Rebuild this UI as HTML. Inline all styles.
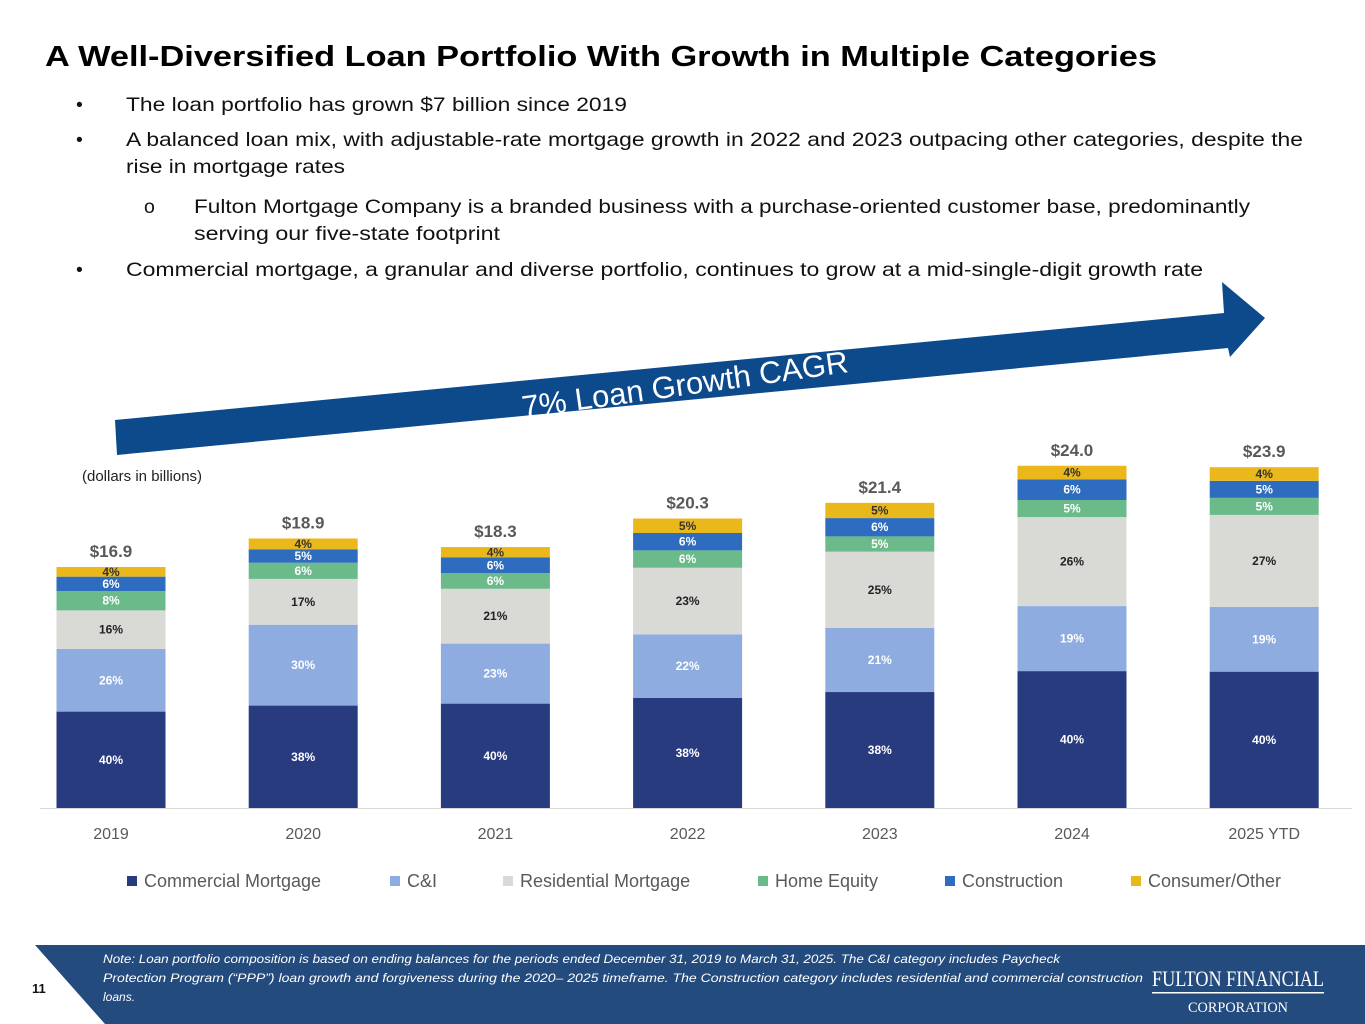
<!DOCTYPE html>
<html><head><meta charset="utf-8"><style>
body{margin:0;background:#fff;}
svg{display:block;font-family:"Liberation Sans",sans-serif;}
</style></head><body>
<svg width="1365" height="1024" viewBox="0 0 1365 1024">
<text x="45" y="66" font-size="29" font-weight="bold" fill="#000" textLength="1112" lengthAdjust="spacingAndGlyphs">A Well-Diversified Loan Portfolio With Growth in Multiple Categories</text>
<g font-size="19.5" fill="#111">
<text x="76" y="111">•</text><text x="126" y="111" textLength="501" lengthAdjust="spacingAndGlyphs">The loan portfolio has grown $7 billion since 2019</text>
<text x="76" y="146">•</text><text x="126" y="146" textLength="1177" lengthAdjust="spacingAndGlyphs">A balanced loan mix, with adjustable-rate mortgage growth in 2022 and 2023 outpacing other categories, despite the</text>
<text x="126" y="173" textLength="219" lengthAdjust="spacingAndGlyphs">rise in mortgage rates</text>
<text x="144" y="213">o</text><text x="194" y="213" textLength="1056" lengthAdjust="spacingAndGlyphs">Fulton Mortgage Company is a branded business with a purchase-oriented customer base, predominantly</text>
<text x="194" y="240" textLength="306" lengthAdjust="spacingAndGlyphs">serving our five-state footprint</text>
<text x="76" y="276">•</text><text x="126" y="276" textLength="1077" lengthAdjust="spacingAndGlyphs">Commercial mortgage, a granular and diverse portfolio, continues to grow at a mid-single-digit growth rate</text>
</g>
<polygon points="115,420 1224,313 1222,282 1265,318 1230,357 1228,348 117,455" fill="#0c4a8c"/>
<text x="685" y="395" font-size="31" fill="#fff" text-anchor="middle" transform="rotate(-8 685 385)">7% Loan Growth CAGR</text>
<text x="82" y="481" font-size="15" fill="#222">(dollars in billions)</text>
<line x1="40" y1="808.5" x2="1352" y2="808.5" stroke="#d9d9d9" stroke-width="1"/>
<g id="bars"></g>
<g id="xlabels" font-size="16" fill="#595959" text-anchor="middle"></g>
<g id="legend" font-size="18" fill="#595959"></g>
<polygon points="35,945 1365,945 1365,1024 105,1024" fill="#234b7e"/>
<text x="32" y="993" font-size="13" font-weight="bold" fill="#111">11</text>
<g font-size="12" font-style="italic" fill="#fff">
<text x="103" y="963" textLength="957" lengthAdjust="spacingAndGlyphs">Note: Loan portfolio composition is based on ending balances for the periods ended December 31, 2019 to March 31, 2025. The C&amp;I category includes Paycheck</text>
<text x="103" y="982" textLength="1040" lengthAdjust="spacingAndGlyphs">Protection Program (“PPP”) loan growth and forgiveness during the 2020– 2025 timeframe. The Construction category includes residential and commercial construction</text>
<text x="103" y="1001">loans.</text>
</g>
<g fill="#fff" font-family="'Liberation Serif',serif">
<text x="1152" y="986" font-size="22" textLength="172" lengthAdjust="spacingAndGlyphs">FULTON FINANCIAL</text>
<rect x="1152" y="992" width="172" height="1.5"/>
<text x="1238" y="1012" font-size="15" text-anchor="middle" textLength="100" lengthAdjust="spacingAndGlyphs">CORPORATION</text>
</g>
</svg>
<script>
const years=["2019","2020","2021","2022","2023","2024","2025 YTD"];
const totals=[16.9,18.9,18.3,20.3,21.4,24.0,23.9];
const totalLabels=["$16.9","$18.9","$18.3","$20.3","$21.4","$24.0","$23.9"];
const seriesNames=["Commercial Mortgage","C&I","Residential Mortgage","Home Equity","Construction","Consumer/Other"];
const commercialMortgage=[40,38,40,38,38,40,40];
const cAndI=[26,30,23,22,21,19,19];
const residentialMortgage=[16,17,21,23,25,26,27];
const homeEquity=[8,6,6,6,5,5,5];
const construction=[6,5,6,6,6,6,5];
const consumerOther=[4,4,4,5,5,4,4];
const series=[commercialMortgage,cAndI,residentialMortgage,homeEquity,construction,consumerOther];
const colors=["#283b7f","#8eacdf","#d9d9d5","#6bba89","#2e6cbf","#ebb81b"];
const labelColors=["#fff","#fff","#222","#fff","#fff","#333"];
const NS="http://www.w3.org/2000/svg";
const baseY=808, pxPer=14.26, x0=111, step=192.2, bw=109;
function xC(i){return x0+i*step;}
function yV(v){return baseY-v*pxPer;}
const gb=document.getElementById('bars');
years.forEach((yr,i)=>{
  let cum=0;
  series.forEach((s,k)=>{
    const v0=totals[i]*cum/100, v1=totals[i]*(cum+s[i])/100;
    cum+=s[i];
    const r=document.createElementNS(NS,'rect');
    r.setAttribute('x',xC(i)-bw/2);r.setAttribute('width',bw);
    r.setAttribute('y',yV(v1));r.setAttribute('height',yV(v0)-yV(v1));
    r.setAttribute('fill',colors[k]);
    
    
    gb.appendChild(r);
    const t=document.createElementNS(NS,'text');
    t.setAttribute('x',xC(i));t.setAttribute('y',(yV(v0)+yV(v1))/2+4);
    t.setAttribute('text-anchor','middle');t.setAttribute('font-size','12');
    t.setAttribute('font-weight','bold');t.setAttribute('fill',labelColors[k]);
    t.textContent=s[i]+'%';
    
    
    gb.appendChild(t);
  });
  const tt=document.createElementNS(NS,'text');
  tt.setAttribute('x',xC(i));tt.setAttribute('y',yV(totals[i])-10);
  tt.setAttribute('text-anchor','middle');tt.setAttribute('font-size','17');
  tt.setAttribute('font-weight','bold');tt.setAttribute('fill','#595959');
  tt.textContent=totalLabels[i];
  
  
  gb.appendChild(tt);
  const xl=document.createElementNS(NS,'text');
  xl.setAttribute('x',xC(i));xl.setAttribute('y',839);
  xl.textContent=yr;
  
  
  document.getElementById('xlabels').appendChild(xl);
});
const legX=[127,390,503,758,945,1131];
const gl=document.getElementById('legend');
seriesNames.forEach((n,k)=>{
  const r=document.createElementNS(NS,'rect');
  r.setAttribute('x',legX[k]);r.setAttribute('y',876);r.setAttribute('width',10);r.setAttribute('height',10);
  r.setAttribute('fill',colors[k]);
  
  
  gl.appendChild(r);
  const t=document.createElementNS(NS,'text');
  t.setAttribute('x',legX[k]+17);t.setAttribute('y',887);
  t.textContent=n;
  
  
  gl.appendChild(t);
});
</script>
</body></html>
